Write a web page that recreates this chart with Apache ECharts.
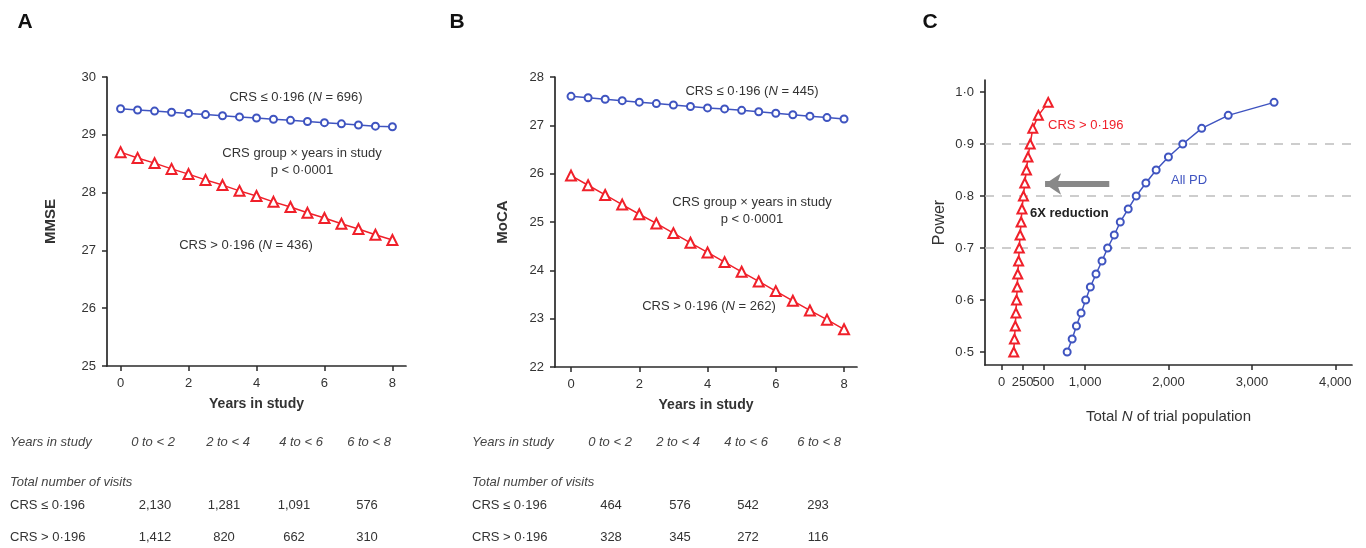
<!DOCTYPE html>
<html>
<head>
<meta charset="utf-8">
<script src="https://cdn.jsdelivr.net/npm/echarts@6/dist/echarts.min.js"></script>
<style>
  html, body { margin: 0; padding: 0; background: #fff; }
  #main { width: 1366px; height: 548px; }
</style>
</head>
<body>
<div id="main"></div>
<script>
// panel A / B: fitted scores by years in study
const years = [0, 0.5, 1, 1.5, 2, 2.5, 3, 3.5, 4, 4.5, 5, 5.5, 6, 6.5, 7, 7.5, 8];
const mmseLow = [29.45, 29.43, 29.41, 29.39, 29.37, 29.35, 29.33, 29.31, 29.29, 29.27, 29.25, 29.23, 29.21, 29.19, 29.17, 29.15, 29.14];
const mmseHigh = [28.70, 28.60, 28.51, 28.41, 28.32, 28.22, 28.13, 28.03, 27.94, 27.84, 27.75, 27.65, 27.56, 27.46, 27.37, 27.27, 27.18];
const mocaLow = [27.60, 27.57, 27.54, 27.51, 27.48, 27.45, 27.42, 27.39, 27.36, 27.34, 27.31, 27.28, 27.25, 27.22, 27.19, 27.16, 27.13];
const mocaHigh = [25.96, 25.76, 25.56, 25.36, 25.16, 24.97, 24.77, 24.57, 24.37, 24.17, 23.97, 23.77, 23.57, 23.37, 23.17, 22.98, 22.78];

// panel C: power vs total N
const powerLevels = [0.50, 0.525, 0.55, 0.575, 0.60, 0.625, 0.65, 0.675, 0.70, 0.725, 0.75, 0.775, 0.80, 0.825, 0.85, 0.875, 0.90, 0.93, 0.955, 0.98];
const nAllPD = [785, 845, 896, 952, 1007, 1063, 1131, 1203, 1270, 1350, 1422, 1517, 1613, 1729, 1852, 1999, 2171, 2398, 2716, 3266];
const nHighCRS = [145, 153, 163, 171, 178, 187, 193, 203, 211, 221, 233, 243, 261, 277, 297, 315, 342, 373, 440, 558];
const powerRefLines = [0.7, 0.8, 0.9];
const nTicks = [0, 250, 500, 1000, 2000, 3000, 4000];
const powerTicks = [0.5, 0.6, 0.7, 0.8, 0.9, 1.0];

// tables under A and B
const bins = ['0 to < 2', '2 to < 4', '4 to < 6', '6 to < 8'];
const visitsMmseLow = ['2,130', '1,281', '1,091', '576'];
const visitsMmseHigh = ['1,412', '820', '662', '310'];
const visitsMocaLow = ['464', '576', '542', '293'];
const visitsMocaHigh = ['328', '345', '272', '116'];

const FONT = '"Liberation Sans", Arial, Helvetica, sans-serif';
const BLUE = '#3f54c0';
const RED = '#f0202a';
const INK = '#333';

const chart = echarts.init(document.getElementById('main'));

function pairs(xs, ys) {
  return xs.map((x, i) => [x, ys[i]]);
}

function axisBase() {
  return {
    axisLine: { show: true, onZero: false, lineStyle: { color: '#2a2a2a', width: 1.7 } },
    axisTick: { show: true, length: 5, lineStyle: { color: '#2a2a2a', width: 1.5 } },
    axisLabel: { color: INK, fontSize: 13, fontFamily: FONT, margin: 11 },
    splitLine: { show: false },
    nameTextStyle: { color: INK, fontFamily: FONT }
  };
}

function txt(x, y, text, extra) {
  return {
    type: 'text', x: x, y: y, silent: true,
    style: Object.assign({
      text: text, fontSize: 13, fontFamily: FONT, fill: INK,
      align: 'center', verticalAlign: 'middle',
      rich: { i: { fontStyle: 'italic', fontSize: 13, fontFamily: FONT, fill: INK } }
    }, extra || {})
  };
}

function table(labelX, headX, numX, low, high) {
  const out = [];
  const it = { fontStyle: 'italic', align: 'left', fill: '#444' };
  out.push(txt(labelX, 442, 'Years in study', it));
  bins.forEach((b, i) => out.push(txt(headX[i], 442, b, { fontStyle: 'italic', fill: '#444' })));
  out.push(txt(labelX, 482, 'Total number of visits', it));
  out.push(txt(labelX, 505, 'CRS ≤ 0·196', { align: 'left' }));
  out.push(txt(labelX, 537, 'CRS > 0·196', { align: 'left' }));
  low.forEach((v, i) => out.push(txt(numX[i], 505, v)));
  high.forEach((v, i) => out.push(txt(numX[i], 537, v)));
  return out;
}

const yearAxis = (min, max) => Object.assign(axisBase(), {
  type: 'value', min: min, max: max,
  name: 'Years in study', nameLocation: 'middle', nameGap: 31,
  nameTextStyle: { color: INK, fontFamily: FONT, fontSize: 14, fontWeight: 'bold' }
});

const xA = yearAxis(-0.4, 8.4);
xA.gridIndex = 0;
xA.axisTick.customValues = [0, 2, 4, 6, 8];
xA.axisLabel.customValues = [0, 2, 4, 6, 8];
const xB = yearAxis(-0.47, 8.38);
xB.gridIndex = 1;
xB.axisTick.customValues = [0, 2, 4, 6, 8];
xB.axisLabel.customValues = [0, 2, 4, 6, 8];

const xC = Object.assign(axisBase(), {
  gridIndex: 2, type: 'value', min: -200, max: 4200,
  name: 'Total {i|N} of trial population', nameLocation: 'middle', nameGap: 44,
  nameTextStyle: {
    color: INK, fontFamily: FONT, fontSize: 15,
    rich: { i: { fontStyle: 'italic', fontSize: 15, fontFamily: FONT, color: INK } }
  }
});
xC.axisTick.customValues = nTicks;
xC.axisLabel.customValues = nTicks;
xC.axisLabel.formatter = v => v.toLocaleString('en-US');

const yA = Object.assign(axisBase(), {
  gridIndex: 0, type: 'value', min: 25, max: 30, interval: 1,
  name: 'MMSE', nameLocation: 'middle', nameGap: 49,
  nameTextStyle: { color: INK, fontFamily: FONT, fontSize: 15, fontWeight: 'bold' }
});
const yB = Object.assign(axisBase(), {
  gridIndex: 1, type: 'value', min: 22, max: 28, interval: 1,
  name: 'MoCA', nameLocation: 'middle', nameGap: 45,
  nameTextStyle: { color: INK, fontFamily: FONT, fontSize: 15, fontWeight: 'bold' }
});
const yC = Object.assign(axisBase(), {
  gridIndex: 2, type: 'value', min: 0.475, max: 1.023,
  name: 'Power', nameLocation: 'middle', nameGap: 37,
  nameTextStyle: { color: INK, fontFamily: FONT, fontSize: 16 }
});
yC.axisTick.customValues = powerTicks;
yC.axisLabel.customValues = powerTicks;
yC.axisLabel.formatter = v => v.toFixed(1).replace('.', '·');

function lineSeries(xi, data, color, symbol, size) {
  return {
    type: 'line', xAxisIndex: xi, yAxisIndex: xi, data: data,
    symbol: symbol, symbolSize: size, showAllSymbol: true,
    lineStyle: { color: color, width: 1.5 },
    itemStyle: { color: color, borderColor: color, borderWidth: 1.5 },
    z: 3
  };
}

const seriesCBlue = lineSeries(2, pairs(nAllPD, powerLevels), BLUE, 'emptyCircle', 7);
seriesCBlue.markLine = {
  silent: true, symbol: ['none', 'none'], label: { show: false },
  lineStyle: { color: '#bdbdbd', type: [9, 8], width: 1.5 },
  data: powerRefLines.map(v => ({ yAxis: v })),
  z: 1
};
const seriesCRed = lineSeries(2, pairs(nHighCRS, powerLevels), RED, 'emptyTriangle', 9);
// grey arrow: 6X reduction
seriesCRed.markLine = {
  silent: true, symbol: ['none', 'arrow'], symbolSize: [16, 16], label: { show: false },
  lineStyle: { color: '#888', type: 'solid', width: 6 },
  data: [[{ coord: [1290, 0.823] }, { coord: [520, 0.823] }]]
};

const graphics = [
  txt(25, 22, 'A', { fontSize: 21, fontWeight: 'bold', fill: '#111' }),
  txt(457, 22, 'B', { fontSize: 21, fontWeight: 'bold', fill: '#111' }),
  txt(930, 22, 'C', { fontSize: 21, fontWeight: 'bold', fill: '#111' }),

  txt(296, 97, 'CRS ≤ 0·196 ({i|N} = 696)'),
  txt(302, 153, 'CRS group × years in study'),
  txt(302, 170, 'p < 0·0001'),
  txt(246, 245, 'CRS > 0·196 ({i|N} = 436)'),

  txt(752, 91, 'CRS ≤ 0·196 ({i|N} = 445)'),
  txt(752, 202, 'CRS group × years in study'),
  txt(752, 219, 'p < 0·0001'),
  txt(709, 306, 'CRS > 0·196 ({i|N} = 262)'),

  txt(1048, 125, 'CRS > 0·196', { align: 'left', fill: RED }),
  txt(1171, 180, 'All PD', { align: 'left', fill: BLUE }),
  txt(1030, 213, '6X reduction', { align: 'left', fontWeight: 'bold', fill: '#222' })
].concat(
  table(10, [153, 228, 301, 369], [155, 224, 294, 367], visitsMmseLow, visitsMmseHigh),
  table(472, [610, 678, 746, 819], [611, 680, 748, 818], visitsMocaLow, visitsMocaHigh)
);

chart.setOption({
  animation: false,
  backgroundColor: '#fff',
  textStyle: { fontFamily: FONT },
  grid: [
    { left: 107, top: 77, width: 299, height: 289 },
    { left: 555, top: 77, width: 302, height: 290 },
    { left: 985, top: 80, width: 367, height: 285 }
  ],
  xAxis: [xA, xB, xC],
  yAxis: [yA, yB, yC],
  series: [
    lineSeries(0, pairs(years, mmseLow), BLUE, 'emptyCircle', 7),
    lineSeries(0, pairs(years, mmseHigh), RED, 'emptyTriangle', 10),
    lineSeries(1, pairs(years, mocaLow), BLUE, 'emptyCircle', 7),
    lineSeries(1, pairs(years, mocaHigh), RED, 'emptyTriangle', 10),
    seriesCBlue,
    seriesCRed
  ],
  graphic: graphics
});
</script>
</body>
</html>
